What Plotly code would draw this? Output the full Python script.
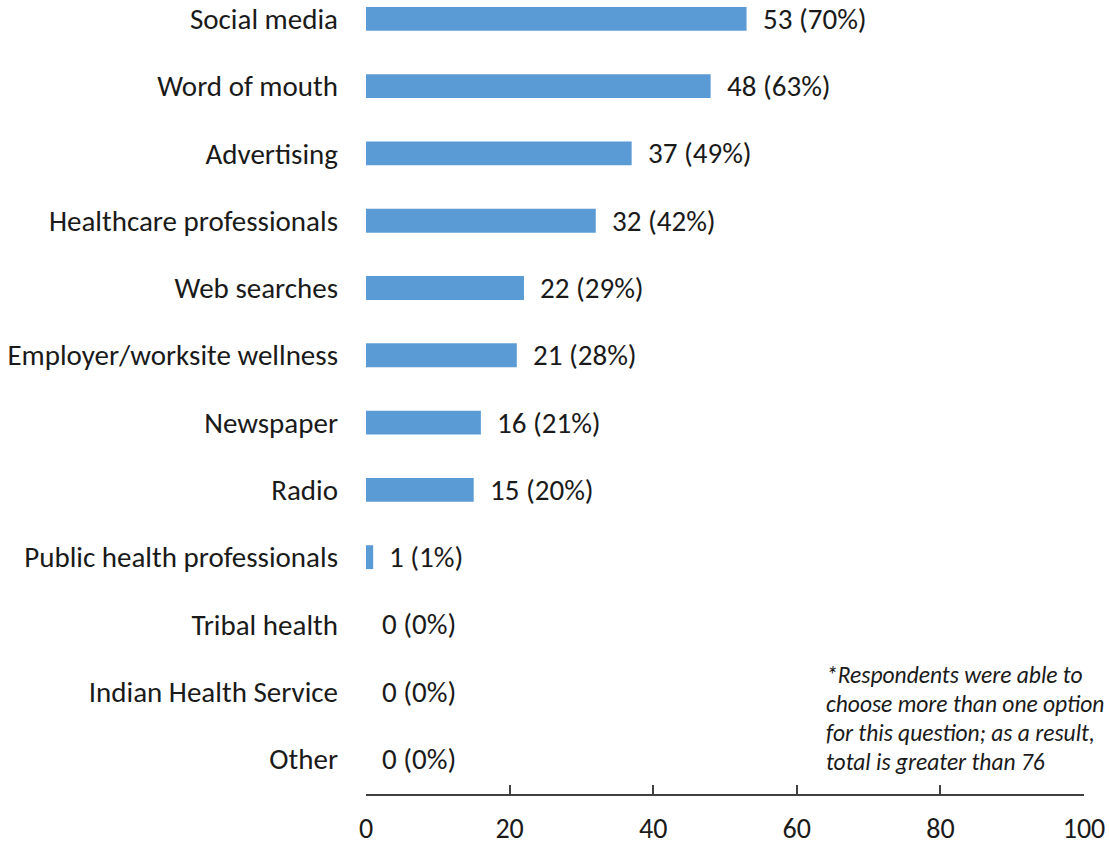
import plotly.graph_objects as go

# Sources of information (multiple answers allowed, n = 76)
categories = [
    "Social media",
    "Word of mouth",
    "Advertising",
    "Healthcare professionals",
    "Web searches",
    "Employer/worksite wellness",
    "Newspaper",
    "Radio",
    "Public health professionals",
    "Tribal health",
    "Indian Health Service",
    "Other",
]
counts = [53, 48, 37, 32, 22, 21, 16, 15, 1, 0, 0, 0]
percents = [70, 63, 49, 42, 29, 28, 21, 20, 1, 0, 0, 0]

x_ticks = [0, 20, 40, 60, 80, 100]

footnote_lines = [
    "*Respondents were able to",
    "choose more than one option",
    "for this question; as a result,",
    "total is greater than 76",
]

FONT = "Carlito, Calibri, Lato, sans-serif"
BAR_COLOR = "#5B9BD5"
TEXT_COLOR = "#1a1a1a"

fig = go.Figure()
fig.add_trace(go.Bar(
    x=counts,
    y=categories,
    orientation="h",
    marker=dict(color=BAR_COLOR, line=dict(width=0)),
    hoverinfo="skip",
))

# value labels to the right of each bar
for cat, n, p in zip(categories, counts, percents):
    fig.add_annotation(
        x=n, y=cat, xref="x", yref="y",
        text=f"{n} ({p}%)",
        showarrow=False, xanchor="left", yanchor="middle",
        xshift=14,
        font=dict(family=FONT, size=29, color=TEXT_COLOR),
    )

# footnote, one annotation per line for tight line spacing
for i, line in enumerate(footnote_lines):
    fig.add_annotation(
        xref="paper", yref="paper", x=0.638, y=0,
        xanchor="left", yanchor="middle", align="left",
        yshift=119 - 29 * i,
        text=f"<i>{line}</i>",
        showarrow=False,
        font=dict(family=FONT, size=23.5, color=TEXT_COLOR),
    )

n = len(categories)
fig.update_layout(
    width=1109, height=846,
    margin=dict(l=366, r=25, t=0, b=52),
    paper_bgcolor="white", plot_bgcolor="white",
    bargap=0.645,
    showlegend=False,
    font=dict(family=FONT, size=29, color=TEXT_COLOR),
)
fig.update_yaxes(
    categoryorder="array", categoryarray=categories,
    range=[n - 1 + 0.52, -0.28],
    showgrid=False, zeroline=False, showline=False,
    ticks="", ticklabelstandoff=27, automargin=False,
    tickfont=dict(family=FONT, size=29, color=TEXT_COLOR),
)
fig.update_xaxes(
    range=[0, 100], tickvals=x_ticks,
    showgrid=False, zeroline=False,
    showline=True, linecolor="#404040", linewidth=1.6,
    ticks="inside", ticklen=9, tickwidth=1.6, tickcolor="#404040",
    ticklabelstandoff=9, automargin=False,
    tickfont=dict(family=FONT, size=28, color=TEXT_COLOR),
)

fig.write_html("out.html")
